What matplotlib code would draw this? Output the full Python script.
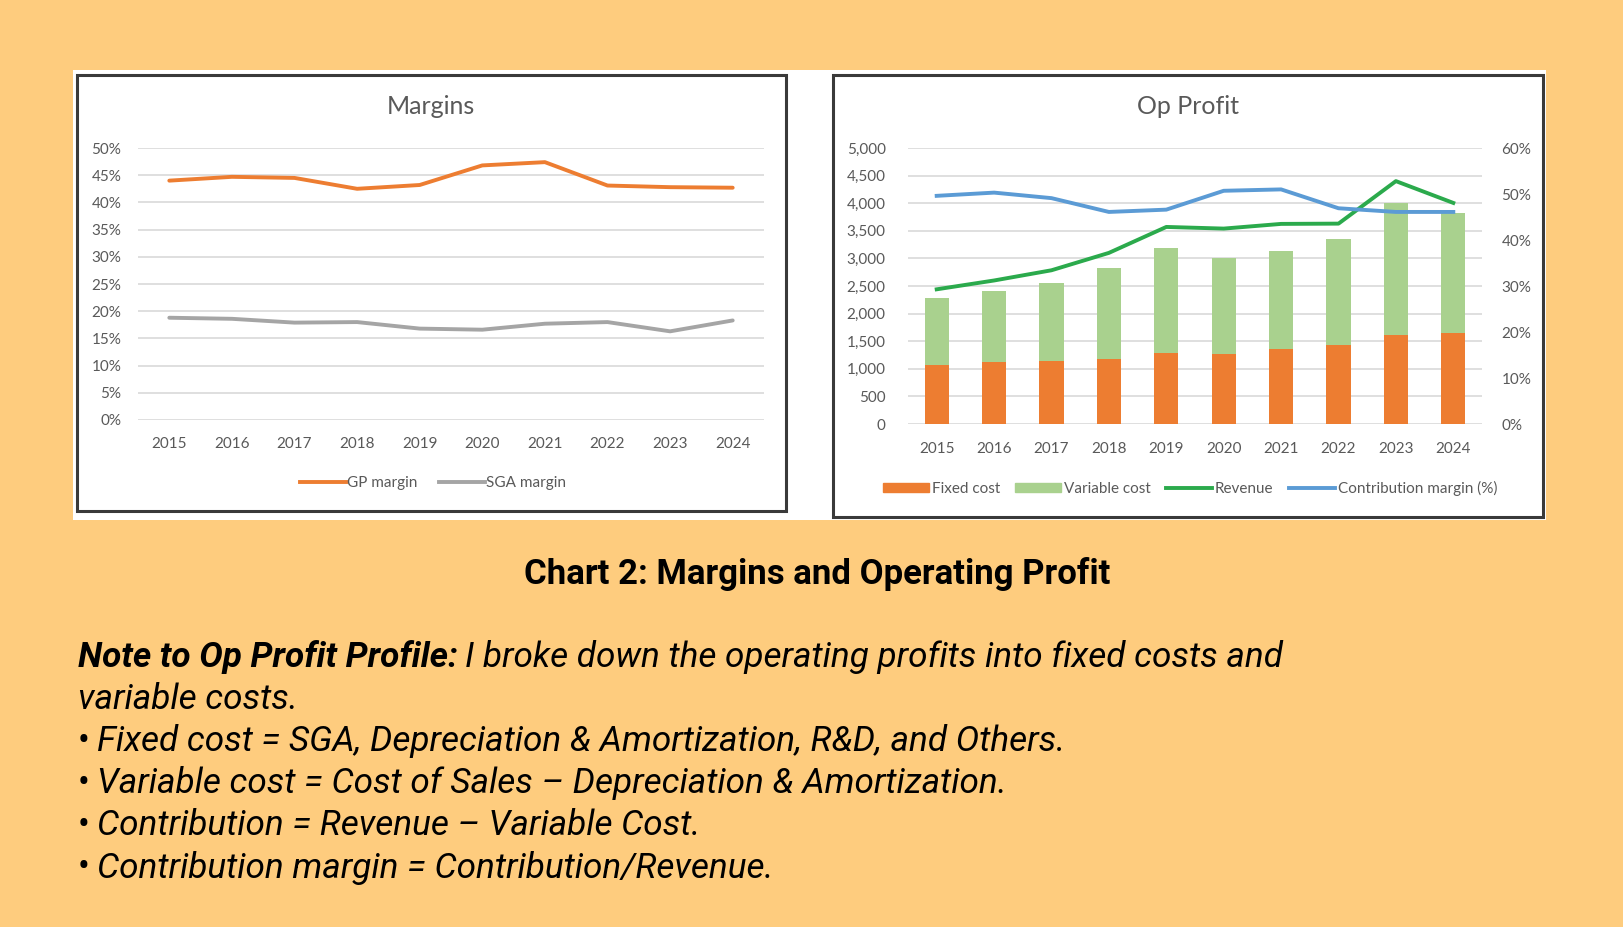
import matplotlib
matplotlib.use("Agg")
import matplotlib.pyplot as plt
import matplotlib.ticker as ticker
from matplotlib.patches import Rectangle
from matplotlib.lines import Line2D
from matplotlib.patches import Patch

years = ["2015", "2016", "2017", "2018", "2019", "2020", "2021", "2022", "2023", "2024"]

# Margins chart (%)
gp_margin = [44.0, 44.7, 44.5, 42.5, 43.2, 46.8, 47.4, 43.1, 42.8, 42.7]
sga_margin = [18.8, 18.6, 17.9, 18.0, 16.8, 16.6, 17.7, 18.0, 16.3, 18.3]

# Op Profit chart
fixed_cost = [1070, 1130, 1135, 1170, 1290, 1265, 1355, 1430, 1615, 1650]
variable_cost = [1220, 1280, 1425, 1665, 1905, 1745, 1780, 1930, 2390, 2175]
revenue = [2440, 2600, 2785, 3100, 3570, 3540, 3625, 3630, 4400, 4005]
contrib_margin = [49.6, 50.3, 49.1, 46.1, 46.6, 50.7, 51.0, 46.9, 46.1, 46.1]

BG = "#FECC7E"
TXT = "#595959"
GRID = "#D9D9D9"
W, H = 1623, 927

fig = plt.figure(figsize=(16.23, 9.27), dpi=100)
fig.patch.set_facecolor(BG)


def box(x0, y0, x1, y1, **kw):
    # pixel coords (top-left origin) -> figure fraction rectangle
    r = Rectangle((x0 / W, 1 - y1 / H), (x1 - x0) / W, (y1 - y0) / H,
                  transform=fig.transFigure, **kw)
    fig.add_artist(r)


def axes_px(x0, y0, x1, y1):
    return fig.add_axes([x0 / W, 1 - y1 / H, (x1 - x0) / W, (y1 - y0) / H])


# white band and the two chart frames
box(73, 70, 1546, 520, facecolor="white", edgecolor="none", zorder=-3)
box(77, 75, 786, 511, facecolor="white", edgecolor="#3a3a3a", linewidth=2.2, zorder=-2)
box(833, 75, 1543, 517, facecolor="white", edgecolor="#3a3a3a", linewidth=2.2, zorder=-2)

tick_font = dict(family="Lato", size=11, color=TXT)
leg_prop = dict(family="Lato", size=11)
x = list(range(len(years)))

# ---------------- Margins ----------------
ax1 = axes_px(138, 148, 764, 420)
ax1.set_facecolor("none")
ax1.plot(x, gp_margin, color="#ED7D31", linewidth=2.8, solid_capstyle="round")
ax1.plot(x, sga_margin, color="#A5A5A5", linewidth=2.8, solid_capstyle="round")
ax1.set_xlim(-0.5, 9.5)
ax1.set_ylim(0, 50)
ax1.yaxis.set_major_locator(ticker.MultipleLocator(5))
ax1.yaxis.set_major_formatter(ticker.FuncFormatter(lambda v, p: f"{v:.0f}%"))
ax1.set_xticks(x)
ax1.set_xticklabels(years)
ax1.grid(axis="y", color=GRID, linewidth=1.2)
ax1.set_axisbelow(True)
for s in ax1.spines.values():
    s.set_visible(False)
ax1.tick_params(length=0, pad=12.5)
ax1.tick_params(axis="y", pad=12)
for lab in ax1.get_xticklabels() + ax1.get_yticklabels():
    lab.set(**tick_font)
fig.text(431 / W, 1 - 107 / H, "Margins", ha="center", va="center",
         fontfamily="Lato", fontsize=18, color=TXT)

h1 = [Line2D([], [], color="#ED7D31", linewidth=2.8),
      Line2D([], [], color="#A5A5A5", linewidth=2.8)]
fig.legend(h1, ["GP margin", "SGA margin"], loc="center", bbox_to_anchor=(433 / W, 1 - 483 / H),
           ncol=2, frameon=False, prop=leg_prop, labelcolor=TXT,
           handlelength=3.0, handletextpad=0.1, columnspacing=1.4)

# ---------------- Op Profit ----------------
ax2 = axes_px(908, 148, 1482, 424)
ax2.set_facecolor("none")
ax2.bar(x, fixed_cost, width=0.42, color="#ED7D31", zorder=2)
ax2.bar(x, variable_cost, width=0.42, bottom=fixed_cost, color="#A9D18E", zorder=2)
ax2.plot(x, revenue, color="#2BAA4C", linewidth=2.8, zorder=3)
ax2.set_xlim(-0.5, 9.5)
ax2.set_ylim(0, 5000)
ax2.yaxis.set_major_locator(ticker.MultipleLocator(500))
ax2.yaxis.set_major_formatter(ticker.FuncFormatter(lambda v, p: f"{v:,.0f}"))
ax2.set_xticks(x)
ax2.set_xticklabels(years)
ax2.grid(axis="y", color=GRID, linewidth=1.2, zorder=0)
ax2.set_axisbelow(True)
for s in ax2.spines.values():
    s.set_visible(False)
ax2.tick_params(length=0, pad=13)
ax2.tick_params(axis="y", pad=16)
for lab in ax2.get_xticklabels() + ax2.get_yticklabels():
    lab.set(**tick_font)
fig.text(1188 / W, 1 - 107 / H, "Op Profit", ha="center", va="center",
         fontfamily="Lato", fontsize=18, color=TXT)

ax3 = ax2.twinx()
ax3.plot(x, contrib_margin, color="#5B9BD5", linewidth=2.8, zorder=4)
ax3.set_ylim(0, 60)
ax3.yaxis.set_major_locator(ticker.MultipleLocator(10))
ax3.yaxis.set_major_formatter(ticker.FuncFormatter(lambda v, p: f"{v:.0f}%"))
for s in ax3.spines.values():
    s.set_visible(False)
ax3.tick_params(length=0, pad=14)
for lab in ax3.get_yticklabels():
    lab.set(**tick_font)

h2 = [Patch(color="#ED7D31"), Patch(color="#A9D18E"),
      Line2D([], [], color="#2BAA4C", linewidth=2.8),
      Line2D([], [], color="#5B9BD5", linewidth=2.8)]
fig.legend(h2, ["Fixed cost", "Variable cost", "Revenue", "Contribution margin (%)"],
           loc="center", bbox_to_anchor=(1190 / W, 1 - 488 / H), ncol=4, frameon=False,
           prop=leg_prop, labelcolor=TXT,
           handlelength=3.0, handleheight=0.55, handletextpad=0.2, columnspacing=1.0)

# ---------------- caption and notes ----------------
fig.text(817 / W, 1 - 574 / H, "Chart 2: Margins and Operating Profit", ha="center", va="center",
         fontfamily="Roboto", fontweight="bold", fontsize=25, color="black")

note_size = 25.3
left = 78 / W
t = fig.text(left, 1 - 657 / H, "Note to Op Profit Profile:", ha="left", va="center",
             fontfamily="Roboto", fontweight="bold", fontstyle="italic", fontsize=note_size)
fig.canvas.draw()
bb = t.get_window_extent(fig.canvas.get_renderer())
fig.text(bb.x1 / W + 7 / W, 1 - 657 / H,
         "I broke down the operating profits into fixed costs and", ha="left", va="center",
         fontfamily="Roboto", fontstyle="italic", fontsize=note_size)
fig.text(left, 1 - 699 / H, "variable costs.", ha="left", va="center",
         fontfamily="Roboto", fontstyle="italic", fontsize=note_size)

bullets = ["Fixed cost = SGA, Depreciation & Amortization, R&D, and Others.",
           "Variable cost = Cost of Sales \u2013 Depreciation & Amortization.",
           "Contribution = Revenue \u2013 Variable Cost.",
           "Contribution margin = Contribution/Revenue."]
for i, b in enumerate(bullets):
    yy = 1 - (741 + i * 42.3) / H
    fig.text(left, yy, "\u2022", ha="left", va="center", fontfamily="Roboto", fontsize=note_size)
    fig.text(97 / W, yy, b, ha="left", va="center",
             fontfamily="Roboto", fontstyle="italic", fontsize=note_size)

fig.savefig("out.png", dpi=100, facecolor=BG)
